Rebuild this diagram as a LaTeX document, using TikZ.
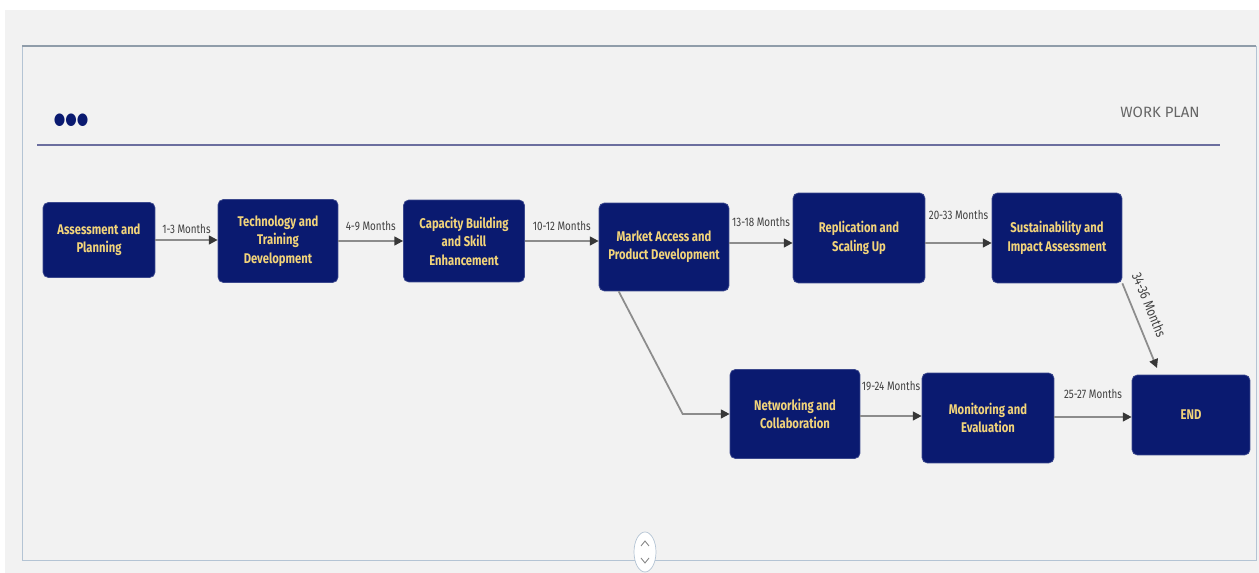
\documentclass[tikz,border=0pt]{standalone}
\usepackage{fontspec}
\setmainfont{Fira Sans}
\newfontfamily\boxfont[FakeStretch=0.8]{Fira Sans}
\newfontfamily\symfont{DejaVu Sans}
\usetikzlibrary{arrows.meta,calc}
\definecolor{navy}{RGB}{10,26,112}
\definecolor{gold}{RGB}{242,212,122}
\definecolor{wire}{RGB}{140,140,140}
\definecolor{tipc}{RGB}{55,55,55}
\definecolor{rulec}{RGB}{108,111,159}
\definecolor{framec}{RGB}{180,196,212}
\definecolor{paper}{RGB}{242,242,242}

\begin{document}
\begin{tikzpicture}[x=0.02cm,y=-0.02cm,
    phase/.style={draw=navy!80!white, fill=navy, rounded corners=3pt, text=gold,
        font=\boxfont\bfseries\fontsize{8}{10.5}\selectfont, align=center, inner sep=2pt},
    lbl/.style={font=\boxfont\fontsize{7}{8}\selectfont, text=black!75, inner sep=1pt},
    arr/.style={draw=wire, line width=1pt, -{Triangle[length=5pt,width=5pt,color=tipc]}}]
    \useasboundingbox (0,0) rectangle (1259,573);
    % Page and panel
    \fill [white] (0,0) rectangle (1259,573);
    \fill [paper] (5,10) rectangle (1259,573);
    \draw [framec, fill=paper] (22,46) rectangle (1256,560);
    \draw [framec!80!black, line width=0.8pt] (22,46) -- (1256,46);

    % Header
    \node [text=navy, font=\symfont\fontsize{7.5}{8}\selectfont, inner sep=0pt, yscale=1.25] (dots) at (71,120) {●●●};
    \node [text=black!60, font=\fontsize{8.5}{10}\selectfont, inner sep=0pt] (title) at (1160,112) {WORK PLAN};
    \draw [rulec, line width=1.4pt] (37,145) -- (1220,145);

    % Phases
    \node [phase, minimum width=2.24cm, minimum height=1.5cm] (ap) at (99,240) {Assessment and\\Planning};
    \node [phase, minimum width=2.4cm, minimum height=1.66cm] (tt) at (278,241) {Technology and\\Training\\Development};
    \node [phase, minimum width=2.42cm, minimum height=1.64cm] (cb) at (464,241) {Capacity Building\\and Skill\\Enhancement};
    \node [phase, minimum width=2.6cm, minimum height=1.76cm] (ma) at (664,247) {Market Access and\\Product Development};
    \node [phase, minimum width=2.64cm, minimum height=1.8cm] (rs) at (859,238) {Replication and\\Scaling Up};
    \node [phase, minimum width=2.6cm, minimum height=1.8cm] (si) at (1057,238) {Sustainability and\\Impact Assessment};
    \node [phase, minimum width=2.6cm, minimum height=1.78cm] (nc) at (795,414) {Networking and\\Collaboration};
    \node [phase, minimum width=2.64cm, minimum height=1.8cm] (me) at (988,418) {Monitoring and\\Evaluation};
    \node [phase, minimum width=2.36cm, minimum height=1.6cm] (fin) at (1191,415) {END};
    \coordinate (finin) at (1157,368);

    % Arrows
    \draw [arr] (ap.east) -- (ap.east -| tt.west) node [lbl, midway, above=2pt] {1-3 Months};
    \draw [arr] (tt.east) -- (tt.east -| cb.west) node [lbl, midway, above=4.5pt] {4-9 Months};
    \draw [arr] (cb.east) -- (cb.east -| ma.west) node [lbl, midway, above=4.5pt] {10-12 Months};
    \draw [arr] ($(ma.east)+(0,-4)$) -- ($(ma.east -| rs.west)+(0,-4)$) node [lbl, midway, above=8pt] {13-18 Months};
    \draw [arr] ($(rs.east)+(0,5)$) -- ($(rs.east -| si.west)+(0,5)$) node [lbl, midway, above=12pt] {20-33 Months};
    \draw [arr] (si.south east) -- (finin) node [lbl, font=\boxfont\fontsize{8}{9}\selectfont, sloped, pos=0.33, above=5pt] {34-36 Months};
    \draw [arr] ($(ma.south west)+(20,0)$) -- ($(nc.west)+(-47,0)$) -- (nc.west);
    \draw [arr] ($(nc.east)+(0,2)$) -- ($(nc.east -| me.west)+(0,2)$) node [lbl, midway, above=13pt] {19-24 Months};
    \draw [arr] ($(me.east)+(0,-1)$) -- ($(me.east -| fin.west)+(0,-1)$) node [lbl, midway, above=9pt] {25-27 Months};

    % Scroll handle
    \filldraw [fill=white, draw=framec] (645,552) ellipse (0.22cm and 0.4cm);
    \draw [black!45, line width=0.5pt] (641,546) -- (645,541) -- (649,546);
    \draw [black!45, line width=0.5pt] (641,558) -- (645,563) -- (649,558);
\end{tikzpicture}
\end{document}
